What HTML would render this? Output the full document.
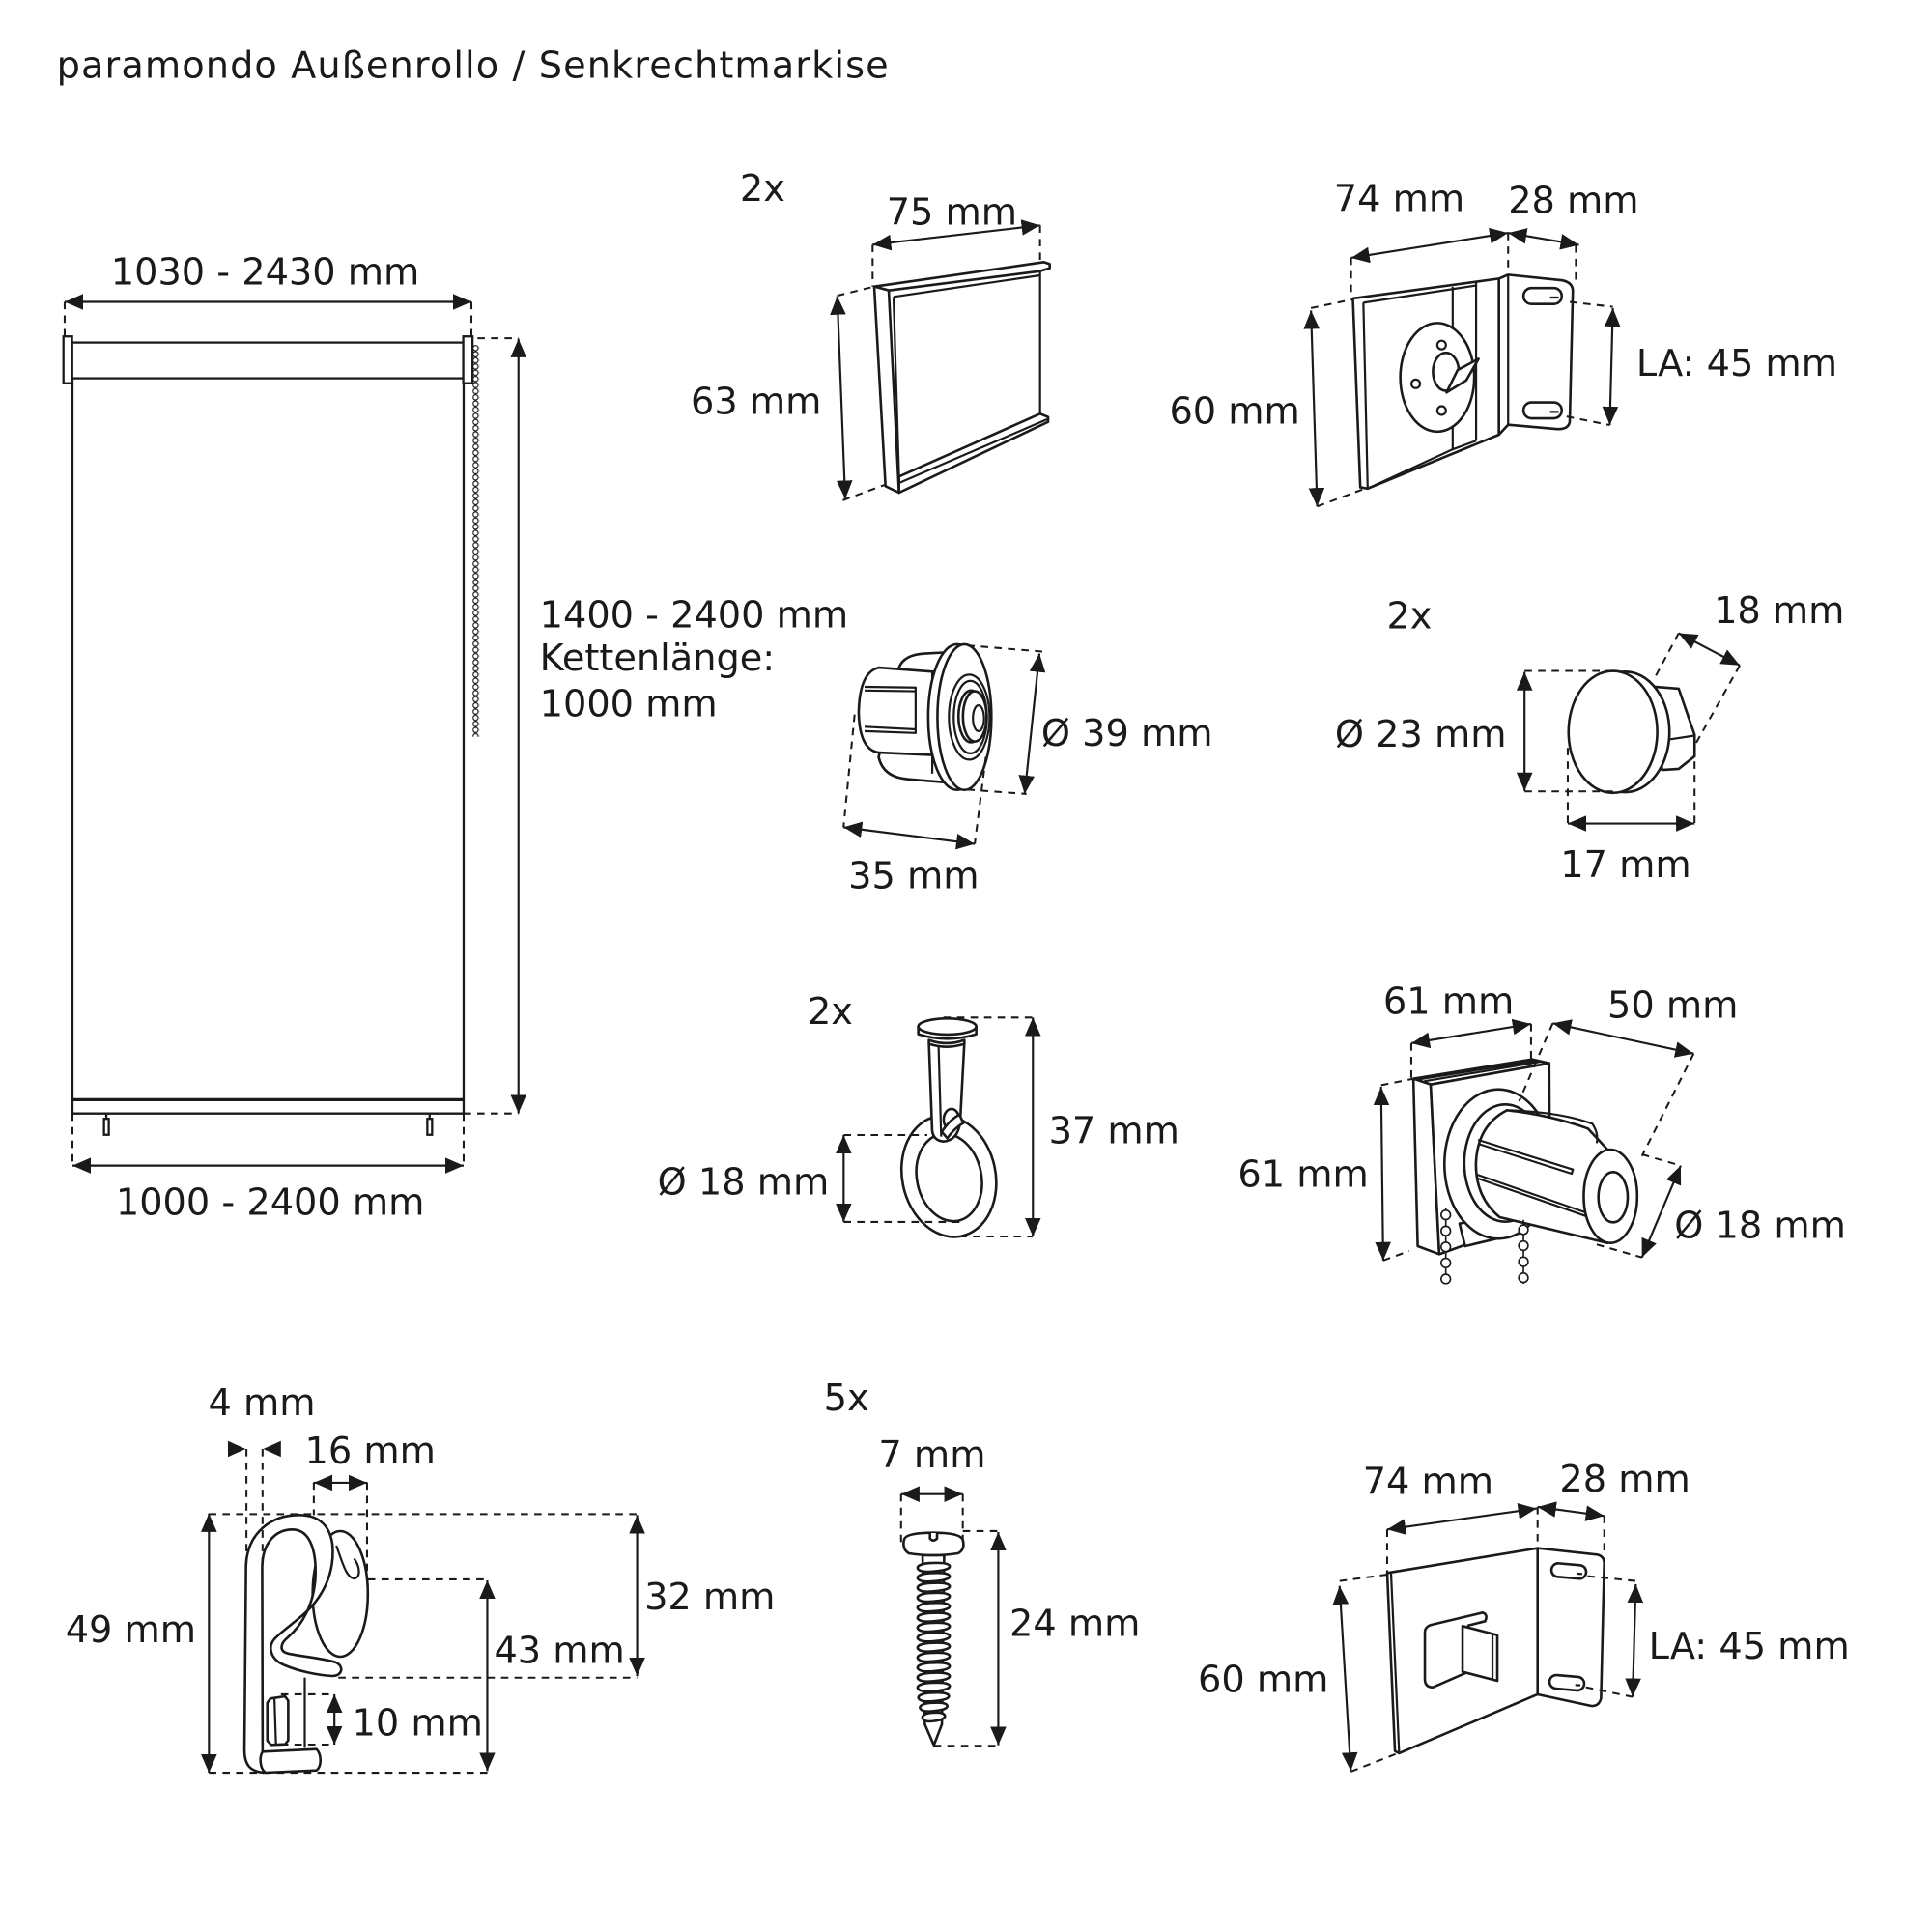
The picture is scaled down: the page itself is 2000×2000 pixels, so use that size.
<!DOCTYPE html>
<html><head><meta charset="utf-8"><style>
html,body{margin:0;padding:0;background:#fff;}
svg{display:block;}
text{font-family:"DejaVu Sans","Liberation Sans",sans-serif;font-size:30px;fill:#1a1a1a;}
.d{stroke:#1a1a1a;stroke-width:1.7;fill:none;marker-start:url(#ah);marker-end:url(#ah);}
.k{stroke:#1a1a1a;stroke-width:1.6;fill:none;stroke-dasharray:6 5;}
.l{stroke:#1a1a1a;stroke-width:1.8;fill:#fff;}
.s{stroke:#1a1a1a;stroke-width:2.6;fill:#fff;vector-effect:non-scaling-stroke;stroke-linejoin:round;}
.n{stroke:#1a1a1a;stroke-width:2.2;fill:none;vector-effect:non-scaling-stroke;stroke-linejoin:round;}
</style></head><body>
<svg width="2000" height="2000" viewBox="0 0 1568 1568" xmlns="http://www.w3.org/2000/svg">
<defs>
<marker id="ah" viewBox="0 0 15 13" refX="15" refY="6.5" markerWidth="15" markerHeight="13" markerUnits="userSpaceOnUse" orient="auto-start-reverse"><path d="M0,0 L15,6.5 L0,13 z" fill="#1a1a1a"/></marker>
<pattern id="ch" patternUnits="userSpaceOnUse" x="383" y="280" width="6" height="5"><ellipse cx="3" cy="2.5" rx="2.1" ry="2.1" fill="#fff" stroke="#1a1a1a" stroke-width="0.9"/></pattern>
<path id="th" class="s" d="M332,6 C322,-4 342,-14 380,-14 C420,-16 434,-8 428,0 C420,8 400,10 380,12 C360,14 340,14 332,6 Z"/>
</defs>
<rect width="1568" height="1568" fill="#fff"/>

<text x="46" y="63" textLength="675" lengthAdjust="spacing">paramondo Außenrollo / Senkrechtmarkise</text>

<!-- Roller blind -->
<rect class="l" x="58.5" y="278" width="317.5" height="29"/>
<rect class="l" x="51.5" y="273" width="7" height="38"/>
<rect class="l" x="376" y="273" width="7.5" height="38"/>
<rect x="383.5" y="280" width="6" height="318" fill="url(#ch)"/>
<line class="l" x1="58.8" y1="307" x2="58.8" y2="903.7"/>
<line class="l" x1="376.3" y1="311" x2="376.3" y2="903.7"/>
<line x1="58.8" y1="892.5" x2="376.3" y2="892.5" stroke="#1a1a1a" stroke-width="2.6"/>
<line class="l" x1="58.8" y1="903.7" x2="376.3" y2="903.7"/>
<line class="l" x1="86.3" y1="903.7" x2="86.3" y2="908"/>
<rect class="l" x="84.4" y="908" width="3.9" height="13" stroke-width="1.4"/>
<line class="l" x1="348.7" y1="903.7" x2="348.7" y2="908"/>
<rect class="l" x="346.8" y="908" width="3.9" height="13" stroke-width="1.4"/>
<text x="90" y="231">1030 - 2430 mm</text>
<text x="94" y="986">1000 - 2400 mm</text>
<text x="438" y="509.4">1400 - 2400 mm</text>
<text x="438" y="544">Kettenlänge:</text>
<text x="438" y="581.4">1000 mm</text>
<line class="d" x1="52.5" y1="245" x2="382.6" y2="245"/>
<line class="d" x1="58.8" y1="946" x2="376.3" y2="946"/>
<line class="d" x1="420.8" y1="275" x2="420.8" y2="903.5"/>
<path class="k" d="M52.5,245 L52.5,273 M382.6,245 L382.6,273 M387.5,274.5 L421,274.5 M376.3,903.7 L420.8,903.7 M58.8,903.7 L58.8,946 M376.3,903.7 L376.3,946"/>

<!-- End bar -->
<g transform="translate(540.96,117.6) scale(0.26134)">
<path class="n" d="M705,472 L1160,405 M705,472 L722,1030 M1160,392 L1160,840"/>
<path class="s" d="M645,440 L1172,364 L1190,370 L1190,383 L1160,392 L690,452 Z"/>
<path class="s" d="M722,1030 L1160,835 L1185,845 L1185,860 L722,1080 Z"/>
<path class="n" d="M722,1050 L1182,852"/>
<path class="s" d="M645,440 L690,452 L722,1080 L680,1060 Z"/>
</g>
<text x="600.5" y="163">2x</text>
<text x="719.5" y="182.4">75 mm</text>
<text x="560.6" y="335.8">63 mm</text>
<line class="d" x1="708.2" y1="198.6" x2="844.1" y2="182.9"/>
<line class="d" x1="679.5" y1="240.4" x2="686" y2="405"/>
<path class="k" d="M708.2,198.6 L708.2,232.6 M844.1,182.9 L844.1,213 M679.5,240 L709.5,232.6 M684,406 L718.7,393.3"/>

<!-- Top right bracket -->
<g transform="translate(784,0) scale(0.5,0.35)">
<path class="s" d="M865,646 L880,637 L968,650 Q985,655 985,675 L980,978 Q978,996 960,995 L880,985 L865,1008 Z"/>
<path class="n" d="M880,637 L880,988"/>
<path class="s" d="M628,692 L865,646 L865,1008 L652,1133 L640,1130 Z"/>
<path class="n" d="M645,702 L828,662 M645,702 L652,1133 M790,665 L790,1042 M828,655 L828,1022 M652,1133 L790,1042 L828,1022"/>
<rect class="s" x="905" y="668" width="62" height="37" rx="13" ry="18"/>
<rect class="s" x="905" y="933" width="62" height="37" rx="13" ry="18"/>
<path class="n" d="M948,690 L962,690 M948,955 L962,955"/>
<ellipse class="s" cx="765" cy="875" rx="60" ry="126"/>
<ellipse class="n" cx="772" cy="800" rx="7" ry="10"/>
<ellipse class="n" cx="730" cy="890" rx="7" ry="10"/>
<ellipse class="n" cx="772" cy="952" rx="7" ry="10"/>
<ellipse class="s" cx="779" cy="862" rx="21" ry="44"/>
<path class="s" d="M780,910 L798,858 L832,832 L812,882 Z"/>
</g>
<text x="1082.5" y="171.5">74 mm</text>
<text x="1224" y="173">28 mm</text>
<text x="1328" y="305">LA: 45 mm</text>
<text x="949" y="343.7">60 mm</text>
<line class="d" x1="1096.5" y1="209.3" x2="1224" y2="189"/>
<line class="d" x1="1224" y1="189" x2="1281.5" y2="198.8"/>
<line class="d" x1="1064" y1="252" x2="1069" y2="411"/>
<line class="d" x1="1309" y1="250" x2="1306.5" y2="345"/>
<path class="k" d="M1096.5,209 L1096.5,241.5 M1224,189 L1224,222 M1279,199 L1279,229 M1064,250 L1098,243 M1069,411 L1106.5,397 M1274,245 L1309,249 M1271.5,338 L1306.5,345"/>

<!-- End cap 39 -->
<g transform="translate(533.1,470.4) scale(0.30003)">
<path class="s" d="M655,238 Q668,203 725,200 L800,196 L800,550 L680,540 Q612,535 600,480 Z"/>
<path class="s" d="M600,238 L760,250 L760,475 L600,468 Q548,460 546,360 Q548,250 600,238 Z"/>
<path class="n" d="M562,290 L700,292 L700,302 L562,300 M562,398 L700,405 L700,415 L562,410 M700,292 L700,415 M745,252 L745,525"/>
<ellipse class="s" cx="812" cy="372" rx="78" ry="197"/>
<ellipse class="s" cx="832" cy="372" rx="73" ry="197"/>
<ellipse class="n" cx="845" cy="372" rx="55" ry="115"/>
<ellipse class="n" cx="848" cy="372" rx="45" ry="98"/>
<ellipse class="s" cx="850" cy="370" rx="34" ry="70"/>
<ellipse class="s" cx="860" cy="370" rx="32" ry="68"/>
<ellipse class="n" cx="870" cy="375" rx="15" ry="35"/>
</g>
<text x="845.1" y="605.4">Ø 39 mm</text>
<text x="688.5" y="720.9">35 mm</text>
<line class="d" x1="843.6" y1="530.4" x2="831.6" y2="644.4"/>
<line class="d" x1="684.6" y1="671.4" x2="791.1" y2="684.9"/>
<path class="k" d="M785.1,523.8 L846.6,528.9 M785.1,640.8 L833.1,644.4 M693.6,579.9 L684.6,671.4 M800.1,614.4 L791.1,684.9"/>

<!-- Cap 23 -->
<g transform="translate(1081.9,470.4) scale(0.30003)">
<path class="s" d="M870,290 L935,295 L978,420 L978,478 L935,512 L890,515 Z"/>
<path class="n" d="M912,432 L978,422"/>
<ellipse class="s" cx="790" cy="412" rx="120" ry="163"/>
<ellipse class="s" cx="757" cy="412" rx="120" ry="165"/>
</g>
<text x="1125.4" y="510">2x</text>
<text x="1390.9" y="505.8">18 mm</text>
<text x="1083.4" y="606">Ø 23 mm</text>
<text x="1266.4" y="712">17 mm</text>
<line class="d" x1="1237.3" y1="545.4" x2="1237.3" y2="642"/>
<line class="d" x1="1272.4" y1="668.4" x2="1375.3" y2="668.4"/>
<line class="d" x1="1362.4" y1="513.9" x2="1412" y2="540"/>
<path class="k" d="M1237.3,544.5 L1309,544.5 M1237.3,642.3 L1309,642.3 M1272.4,607 L1272.4,668 M1375.3,607 L1375.3,668 M1362.4,513.9 L1343,550 M1412,540 L1376,604"/>

<!-- Ring -->
<g transform="translate(517.4,807.5) scale(0.26134)">
<path class="s" fill-rule="evenodd" transform="rotate(-12 967 563)" d="M967,373 A145,190 0 1,0 967,753 A145,190 0 1,0 967,373 Z M967,430 A100,137 0 1,1 967,704 A100,137 0 1,1 967,430 Z"/>
<path class="s" d="M905,150 L1015,150 L1002,395 Q995,452 950,455 Q918,452 915,420 Z"/>
<path class="n" d="M935,160 L943,440"/>
<ellipse class="s" cx="975" cy="387" rx="24" ry="33"/>
<path class="s" d="M945,425 Q972,385 1000,372 L1012,398 Q988,410 962,445 Z"/>
<path class="s" d="M905,140 Q960,160 1015,140 L1015,152 Q960,170 905,152 Z"/>
<path class="s" d="M872,98 L872,122 Q962,150 1052,122 L1052,98 Z"/>
<ellipse class="s" cx="962" cy="98" rx="90" ry="25"/>
</g>
<text x="655.4" y="831">2x</text>
<text x="533.6" y="969.5">Ø 18 mm</text>
<text x="851.1" y="928">37 mm</text>
<line class="d" x1="684.7" y1="921.2" x2="684.7" y2="991.7"/>
<line class="d" x1="838.3" y1="825.8" x2="838.3" y2="1003.5"/>
<path class="k" d="M684.7,921.2 L752.6,921.2 M684.7,991.7 L781.3,991.7 M765.7,825.8 L838.3,825.8 M778.7,1003.5 L838.3,1003.5"/>

<!-- Drive unit -->
<g transform="translate(987.85,784) scale(0.35,0.26134)">
<path class="s" d="M455,350 L730,290 L770,302 L495,368 Z"/>
<path class="n" d="M468,352 L738,294 M480,358 L750,297"/>
<path class="s" d="M455,350 L495,368 L515,895 L465,870 Z"/>
<path class="s" d="M495,368 L770,302 L772,770 L515,895 Z"/>
<path class="s" d="M562,800 L700,762 L700,830 L575,870 Z"/>
<ellipse class="s" cx="652" cy="615" rx="125" ry="232"/>
<ellipse class="s" cx="668" cy="612" rx="95" ry="182"/>
<path class="s" d="M672,448 Q770,462 860,505 L905,570 L905,860 L655,780 Q600,720 600,615 Q603,495 672,448 Z"/>
<path class="n" d="M680,448 Q800,455 870,490 Q885,520 880,550"/>
<path class="n" d="M605,540 L825,632 L822,645 L605,552 M603,648 L860,768 L858,778 L605,660"/>
<ellipse class="s" cx="912" cy="715" rx="62" ry="145"/>
<ellipse class="s" cx="918" cy="718" rx="34" ry="78"/>
</g>
<g fill="#fff" stroke="#1a1a1a" stroke-width="1.3">
<line x1="1173.4" y1="980" x2="1173.4" y2="1042"/>
<circle cx="1173.4" cy="986" r="3.8"/><circle cx="1173.4" cy="999" r="3.8"/><circle cx="1173.4" cy="1012" r="3.8"/><circle cx="1173.4" cy="1025" r="3.8"/><circle cx="1173.4" cy="1038" r="3.8"/>
<line x1="1236.4" y1="990" x2="1236.4" y2="1042"/>
<circle cx="1236.4" cy="998" r="3.8"/><circle cx="1236.4" cy="1011" r="3.8"/><circle cx="1236.4" cy="1024" r="3.8"/><circle cx="1236.4" cy="1037" r="3.8"/>
</g>
<text x="1122.6" y="822.7">61 mm</text>
<text x="1304.6" y="825.8">50 mm</text>
<text x="1004.6" y="963">61 mm</text>
<text x="1358.9" y="1004.8">Ø 18 mm</text>
<line class="d" x1="1145.4" y1="846.7" x2="1242.6" y2="831"/>
<line class="d" x1="1260.2" y1="830.5" x2="1374.6" y2="855.1"/>
<line class="d" x1="1364.1" y1="946" x2="1332.6" y2="1020.5"/>
<line class="d" x1="1120.9" y1="882" x2="1122.6" y2="1023"/>
<path class="k" d="M1145.4,846.7 L1145.4,876.8 M1242.6,831 L1242.6,861 M1260.2,830.5 L1232.9,893.8 M1374.6,855.1 L1332.6,938.2 M1332.6,936.9 L1364.1,946 M1295.9,1010 L1332.6,1020.5 M1120.9,880.7 L1147.1,875.5 M1122.6,1023 L1143.6,1015.3"/>

<!-- Hook -->
<g transform="translate(31.36,1097.6) scale(0.32,0.26134)">
<ellipse class="s" cx="765" cy="750" rx="70" ry="195"/>
<path class="n" d="M755,600 C770,650 780,700 800,702 C818,700 815,665 800,640"/>
<path class="s" d="M570,1305 C532,1300 522,1275 522,1235 L526,660 C530,560 590,505 660,505 C708,505 738,535 745,595 C750,660 735,720 705,770 C675,820 625,855 598,890 C580,915 588,955 625,972 C660,990 705,1002 745,1005 C772,1005 775,972 752,962 C720,950 670,945 632,935 C610,928 612,905 632,885 C670,845 698,780 702,700 C705,620 690,552 645,550 C598,550 568,595 567,665 L568,1232 Z"/>
<path class="s" d="M568,1240 L705,1232 C718,1250 718,1285 705,1298 L575,1305 C560,1290 560,1255 568,1240 Z"/>
<path class="s" d="M588,1075 L625,1068 L633,1082 L633,1205 L625,1217 L590,1219 L580,1206 L580,1088 Z"/>
<path class="n" d="M598,1072 L602,1218 M675,1010 L675,1228"/>
</g>
<text x="169" y="1148.6">4 mm</text>
<text x="247.4" y="1187.8">16 mm</text>
<text x="53.1" y="1332.8">49 mm</text>
<text x="401" y="1349.8">43 mm</text>
<text x="285.8" y="1408.6">10 mm</text>
<text x="523" y="1306">32 mm</text>
<polygon points="185,1169.5 199.4,1176 185,1182.5" fill="#1a1a1a"/>
<polygon points="228,1169.5 213.6,1176 228,1182.5" fill="#1a1a1a"/>
<line class="d" x1="254.7" y1="1203.4" x2="297.9" y2="1203.4"/>
<line class="d" x1="169.6" y1="1228.3" x2="169.6" y2="1438.7"/>
<line class="d" x1="395.5" y1="1282.6" x2="395.5" y2="1437.4"/>
<line class="d" x1="517.1" y1="1229.6" x2="517.1" y2="1360.3"/>
<line class="d" x1="271.4" y1="1375.1" x2="271.4" y2="1415.9"/>
<path class="k" d="M200,1176 L200,1271 M213.1,1176 L213.1,1271 M254.7,1203 L254.7,1229.6 M297.9,1203 L297.9,1280.5 M169.6,1228.8 L517.8,1228.8 M169.6,1438.7 L396.2,1438.7 M298.6,1281.8 L395.5,1281.8 M274.6,1361.6 L517.1,1361.6 M228,1375.1 L271.4,1375.1 M228,1415.9 L271.4,1415.9"/>

<!-- Screw -->
<g transform="translate(658.6,1121.1) scale(0.26134)">
<path class="s" d="M345,540 L412,540 L405,1065 L380,1130 L352,1065 Z"/>
<use href="#th" transform="translate(0,578)"/>
<use href="#th" transform="translate(0,609)"/>
<use href="#th" transform="translate(0,640)"/>
<use href="#th" transform="translate(0,671)"/>
<use href="#th" transform="translate(0,702)"/>
<use href="#th" transform="translate(0,733)"/>
<use href="#th" transform="translate(0,764)"/>
<use href="#th" transform="translate(0,795)"/>
<use href="#th" transform="translate(0,826)"/>
<use href="#th" transform="translate(0,857)"/>
<use href="#th" transform="translate(0,888)"/>
<use href="#th" transform="translate(0,919)"/>
<use href="#th" transform="translate(0,950)"/>
<use href="#th" transform="translate(380,981) scale(0.95,1) translate(-380,0)"/>
<use href="#th" transform="translate(380,1012) scale(0.85,1) translate(-380,0)"/>
<use href="#th" transform="translate(380,1043) scale(0.7,1) translate(-380,0)"/>
<path class="s" d="M288,490 Q295,470 378,470 Q462,470 470,492 Q478,522 455,534 Q378,546 302,534 Q280,520 288,490 Z"/>
<path class="s" d="M368,471 L368,488 Q378,500 390,488 L390,471"/>
</g>
<text x="668.5" y="1144.6">5x</text>
<text x="713" y="1191.1">7 mm</text>
<text x="819.3" y="1327.6">24 mm</text>
<line class="d" x1="731.3" y1="1212.6" x2="781.4" y2="1212.6"/>
<line class="d" x1="810.2" y1="1243.4" x2="810.2" y2="1416.4"/>
<path class="k" d="M731.3,1212.6 L731.3,1251.8 M781.4,1212.6 L781.4,1251.8 M781.4,1242.6 L810.2,1242.6 M757.9,1416.9 L810.2,1416.9"/>

<!-- Bottom bracket -->
<g transform="translate(956.5,1160.3) scale(0.26134)">
<path class="s" d="M1115,368 L1300,388 Q1322,393 1322,415 L1312,835 Q1305,860 1282,858 L1115,822 Z"/>
<path class="s" d="M648,445 L1115,368 L1115,822 L685,1005 L672,998 Z"/>
<path class="n" d="M660,447 L685,1005"/>
<path class="n" d="M648,445 L1115,368" stroke-width="3.5"/>
<rect class="s" x="1158" y="418" width="108" height="42" rx="21" transform="rotate(5 1212 439)"/>
<rect class="s" x="1152" y="765" width="108" height="42" rx="21" transform="rotate(5 1206 786)"/>
<path class="n" d="M1238,447 L1254,448 M1232,793 L1248,794"/>
<path class="s" d="M790,605 L945,568 Q962,575 952,595 L900,608 L900,752 L790,800 Q765,800 765,775 L765,630 Q765,610 790,605 Z"/>
<path class="s" d="M882,610 L990,638 L990,780 L882,752 Z"/>
<path class="n" d="M975,636 L975,778"/>
</g>
<text x="1106" y="1212.6">74 mm</text>
<text x="1265.7" y="1210.7">28 mm</text>
<text x="972.2" y="1373.3">60 mm</text>
<text x="1338" y="1346">LA: 45 mm</text>
<line class="d" x1="1125.8" y1="1241.3" x2="1247.1" y2="1224.3"/>
<line class="d" x1="1247.9" y1="1223" x2="1302" y2="1230.3"/>
<line class="d" x1="1087.2" y1="1287.1" x2="1096.3" y2="1437.3"/>
<line class="d" x1="1327.6" y1="1285.7" x2="1325" y2="1377.2"/>
<path class="k" d="M1125.8,1241.3 L1125.8,1276.6 M1247.9,1223 L1247.9,1255.7 M1302,1230.3 L1302,1262.2 M1087.2,1283.1 L1125.8,1277.9 M1096.3,1437.8 L1134.2,1423 M1288.4,1279.2 L1327.6,1283.1 M1287.1,1369.4 L1325,1377.2"/>
</svg>
</body></html>
